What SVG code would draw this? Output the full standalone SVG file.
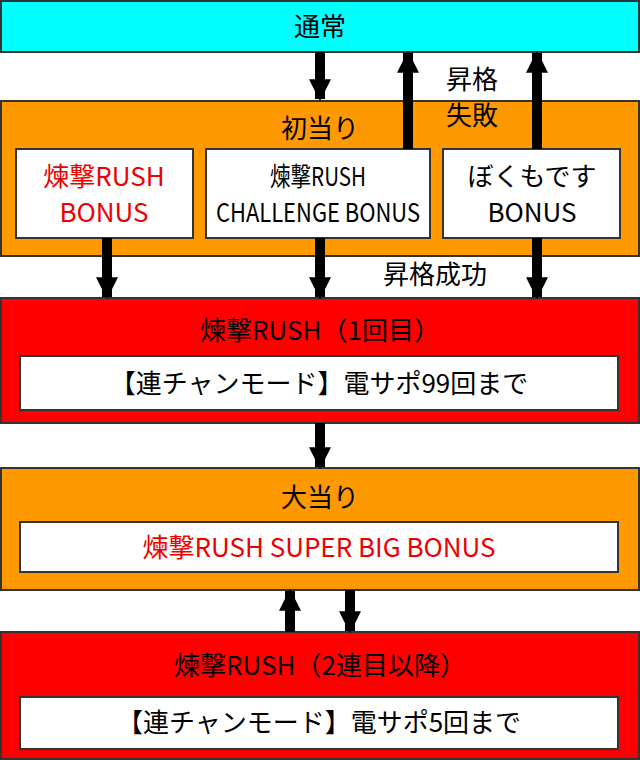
<svg xmlns="http://www.w3.org/2000/svg" width="640" height="760" viewBox="0 0 640 760">
<style>
text{font-family:"Noto Sans CJK JP","Noto Sans",sans-serif;font-size:26px;text-anchor:middle;fill:#000}
.r{fill:#e00}
.box{stroke:#333;stroke-width:2}
.w{fill:#fff;stroke:#333;stroke-width:2}
</style>
<defs>
<marker id="ah" viewBox="0 0 10 10" refX="9" refY="5" markerWidth="2.2" markerHeight="2.6" orient="auto" markerUnits="strokeWidth"><path d="M0,0L10,5L0,10z" fill="#000"/></marker>
</defs>
<rect width="640" height="760" fill="#fff"/>
<g id="normal"><rect class="box" x="1" y="1" width="638" height="51" fill="#00ffff"/><text x="320" y="36">通常</text></g>
<g id="first"><rect class="box" x="1" y="101" width="638" height="155" fill="#ff9900"/><text x="320" y="138">初当り</text>
<rect class="w" x="16" y="149" width="177" height="89"/><text class="r" x="104" y="186">煉撃RUSH</text><text class="r" x="104" y="222">BONUS</text>
<rect class="w" x="206" y="149" width="224" height="89"/><text x="318" y="186" font-size="22" textLength="96" lengthAdjust="spacingAndGlyphs">煉撃RUSH</text><text x="318" y="222" font-size="22" textLength="204" lengthAdjust="spacingAndGlyphs">CHALLENGE BONUS</text>
<rect class="w" x="443" y="149" width="177" height="89"/><text x="532" y="186">ぼくもです</text><text x="532" y="222">BONUS</text></g>
<g id="rush1"><rect class="box" x="1" y="298" width="638" height="125" fill="#ff0000"/><text x="320" y="340" fill="#fff">煉撃RUSH（1回目）</text>
<rect class="w" x="20" y="356" width="598" height="54"/><text x="319" y="393">【連チャンモード】電サポ99回まで</text></g>
<g id="big"><rect class="box" x="1" y="468" width="638" height="122" fill="#ff9900"/><text x="320" y="507">大当り</text>
<rect class="w" x="20" y="522" width="598" height="50"/><text class="r" x="319" y="557">煉撃RUSH SUPER BIG BONUS</text></g>
<g id="rush2"><rect class="box" x="1" y="632" width="638" height="127" fill="#ff0000"/><text x="320" y="675" fill="#fff">煉撃RUSH（2連目以降）</text>
<rect class="w" x="20" y="697" width="598" height="52"/><text x="319" y="732">【連チャンモード】電サポ5回まで</text></g>
<g id="labels"><text x="472" y="89">昇格</text><text x="472" y="125">失敗</text><text x="435" y="284">昇格成功</text></g>
<g id="connectors" stroke="#000" stroke-width="10" fill="none" marker-end="url(#ah)">
<line x1="320" y1="52" x2="320" y2="99"/>
<line x1="408" y1="149" x2="408" y2="53"/>
<line x1="537" y1="149" x2="537" y2="53"/>
<line x1="107" y1="238" x2="107" y2="297"/>
<line x1="320" y1="238" x2="320" y2="297"/>
<line x1="537" y1="238" x2="537" y2="297"/>
<line x1="320" y1="423" x2="320" y2="467"/>
<line x1="290" y1="632" x2="290" y2="591"/>
<line x1="350" y1="590" x2="350" y2="631"/>
</g>
</svg>
